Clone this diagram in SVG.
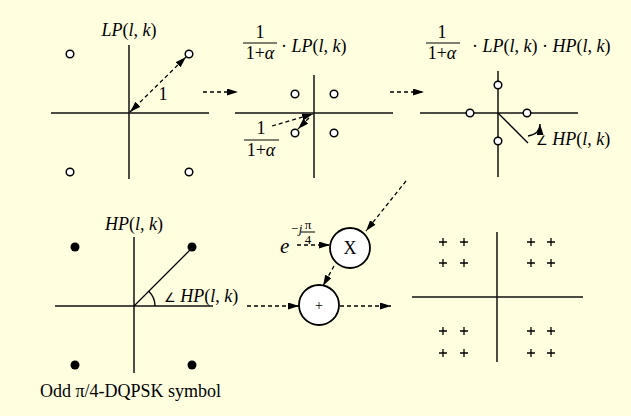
<svg xmlns="http://www.w3.org/2000/svg" width="631" height="416" viewBox="0 0 631 416">
<defs>
<marker id="ah" markerUnits="userSpaceOnUse" markerWidth="12" markerHeight="8" refX="11" refY="3.5" orient="auto-start-reverse">
<path d="M0,0 L11,3.5 L0,7 z" fill="#000"/>
</marker>
</defs>
<style>
.ax{stroke:#111;stroke-width:1.5;fill:none}
.oc{fill:#fff;stroke:#000;stroke-width:1.5}
.fc{fill:#000}
.dash{stroke:#000;stroke-width:1.3;stroke-dasharray:4 3;fill:none}
.solid{stroke:#000;stroke-width:1.3;fill:none}
.t{font-family:"Liberation Serif","Times New Roman",serif;font-size:18px;fill:#000}
.i{font-style:italic}
.ang{font-family:"DejaVu Sans",sans-serif;font-size:13px;font-style:normal}
.bar{stroke:#000;stroke-width:1}
.node{fill:#fff;stroke:#000;stroke-width:1.8}
.pl{stroke:#000;stroke-width:1.3}
.sm{font-size:13px}
</style>
<rect x="0" y="0" width="631" height="416" fill="#FFFFE0"/>

<g id="panel-lp">
<line class="ax" x1="51" y1="113" x2="209" y2="113"/>
<line class="ax" x1="129" y1="45" x2="129" y2="179"/>
<circle class="oc" cx="70" cy="54" r="3.8"/>
<circle class="oc" cx="189" cy="54" r="3.8"/>
<circle class="oc" cx="70" cy="172" r="3.8"/>
<circle class="oc" cx="189" cy="172" r="3.8"/>
<text class="t" x="129" y="36" text-anchor="middle"><tspan class="i">LP</tspan>(<tspan class="i">l</tspan>, <tspan class="i">k</tspan>)</text>
<line class="dash" x1="130" y1="112" x2="186" y2="57" marker-start="url(#ah)" marker-end="url(#ah)"/>
<text class="t" x="163" y="100" text-anchor="middle">1</text>
</g>

<g id="panel-scaled">
<line class="ax" x1="235" y1="113" x2="393" y2="113"/>
<line class="ax" x1="314" y1="75" x2="314" y2="178"/>
<circle class="oc" cx="295" cy="94" r="3.8"/>
<circle class="oc" cx="334" cy="94" r="3.8"/>
<circle class="oc" cx="295" cy="133" r="3.8"/>
<circle class="oc" cx="334" cy="133" r="3.8"/>
<text class="t" x="260" y="38" text-anchor="middle">1</text>
<line class="bar" x1="243" y1="43" x2="277" y2="43"/>
<text class="t" x="260" y="59" text-anchor="middle">1+<tspan class="i">α</tspan></text>
<text class="t" x="281" y="52">· <tspan class="i">LP</tspan>(<tspan class="i">l</tspan>, <tspan class="i">k</tspan>)</text>
<text class="t" x="261" y="134" text-anchor="middle">1</text>
<line class="bar" x1="244" y1="140" x2="279" y2="140"/>
<text class="t" x="261" y="156" text-anchor="middle">1+<tspan class="i">α</tspan></text>
<line class="dash" x1="272" y1="126" x2="313" y2="114" marker-end="url(#ah)"/>
<line class="dash" x1="309" y1="118" x2="298" y2="129" marker-end="url(#ah)"/>
</g>

<g id="panel-rotated">
<line class="ax" x1="420" y1="113" x2="578" y2="113"/>
<line class="ax" x1="498" y1="71" x2="498" y2="177"/>
<line class="solid" x1="498" y1="113" x2="528" y2="143"/>
<circle class="oc" cx="498" cy="85" r="3.8"/>
<circle class="oc" cx="470" cy="113" r="3.8"/>
<circle class="oc" cx="527" cy="113" r="3.8"/>
<circle class="oc" cx="498" cy="141" r="3.8"/>
<text class="t" x="442" y="38" text-anchor="middle">1</text>
<line class="bar" x1="426" y1="43" x2="460" y2="43"/>
<text class="t" x="442" y="59" text-anchor="middle">1+<tspan class="i">α</tspan></text>
<text class="t" x="472" y="52">· <tspan class="i">LP</tspan>(<tspan class="i">l</tspan>, <tspan class="i">k</tspan>) · <tspan class="i">HP</tspan>(<tspan class="i">l</tspan>, <tspan class="i">k</tspan>)</text>
<path class="solid" d="M528,136 Q540,134 540,124" marker-end="url(#ah)"/>
<text class="t" x="536" y="145"><tspan class="ang">∠</tspan> <tspan class="i">HP</tspan>(<tspan class="i">l</tspan>, <tspan class="i">k</tspan>)</text>
</g>

<g id="panel-hp">
<line class="ax" x1="55" y1="306" x2="213" y2="306"/>
<line class="ax" x1="134" y1="237" x2="134" y2="373"/>
<line class="solid" x1="134" y1="306" x2="192" y2="248"/>
<path class="solid" d="M155,306 A21,21 0 0 0 148.8,291.2"/>
<circle class="fc" cx="75" cy="247" r="4.5"/>
<circle class="fc" cx="192" cy="247" r="4.5"/>
<circle class="fc" cx="75" cy="365" r="4.5"/>
<circle class="fc" cx="192" cy="365" r="4.5"/>
<text class="t" x="134" y="230" text-anchor="middle"><tspan class="i">HP</tspan>(<tspan class="i">l</tspan>, <tspan class="i">k</tspan>)</text>
<text class="t" x="164" y="302"><tspan class="ang">∠</tspan> <tspan class="i">HP</tspan>(<tspan class="i">l</tspan>, <tspan class="i">k</tspan>)</text>
<text class="t" x="40" y="397">Odd π/4-DQPSK symbol</text>
</g>

<g id="node-phase">
<text class="t i" x="280" y="253" style="font-size:21px">e</text>
<text class="t i sm" x="290" y="233">−j</text>
<text class="t sm" x="308" y="229" text-anchor="middle">π</text>
<line class="bar" x1="301" y1="232" x2="315" y2="232"/>
<text class="t sm" x="308" y="244" text-anchor="middle">4</text>
</g>

<g id="node-mult">
<circle class="node" cx="350" cy="248" r="20"/>
<text class="t" x="350" y="254" text-anchor="middle">X</text>
</g>

<g id="node-add">
<circle class="node" cx="319" cy="305" r="20"/>
<text class="t" x="319" y="310" text-anchor="middle" style="font-size:14px">+</text>
</g>

<g id="panel-out">
<line class="ax" x1="412" y1="297" x2="583" y2="297"/>
<line class="ax" x1="497" y1="232" x2="497" y2="362"/>
<path class="pl" d="M439,242h8M443,238v8 M460,242h8M464,238v8 M527,242h8M531,238v8 M547,242h8M551,238v8
M439,263h8M443,259v8 M460,263h8M464,259v8 M527,263h8M531,259v8 M547,263h8M551,259v8
M439,331h8M443,327v8 M460,331h8M464,327v8 M527,331h8M531,327v8 M547,331h8M551,327v8
M439,353h8M443,349v8 M460,353h8M464,349v8 M527,353h8M531,349v8 M547,353h8M551,349v8"/>
</g>

<g id="connectors">
<line class="dash" x1="297" y1="245" x2="330" y2="245" marker-end="url(#ah)"/>
<line class="dash" x1="203" y1="92" x2="238" y2="92" marker-end="url(#ah)"/>
<line class="dash" x1="390" y1="92" x2="424" y2="92" marker-end="url(#ah)"/>
<line class="dash" x1="406" y1="181" x2="366" y2="231" marker-end="url(#ah)"/>
<line class="dash" x1="334" y1="266" x2="323" y2="286" marker-end="url(#ah)"/>
<line class="dash" x1="247" y1="306" x2="299" y2="306" marker-end="url(#ah)"/>
<line class="dash" x1="340" y1="306" x2="391" y2="306" marker-end="url(#ah)"/>
</g>
</svg>
